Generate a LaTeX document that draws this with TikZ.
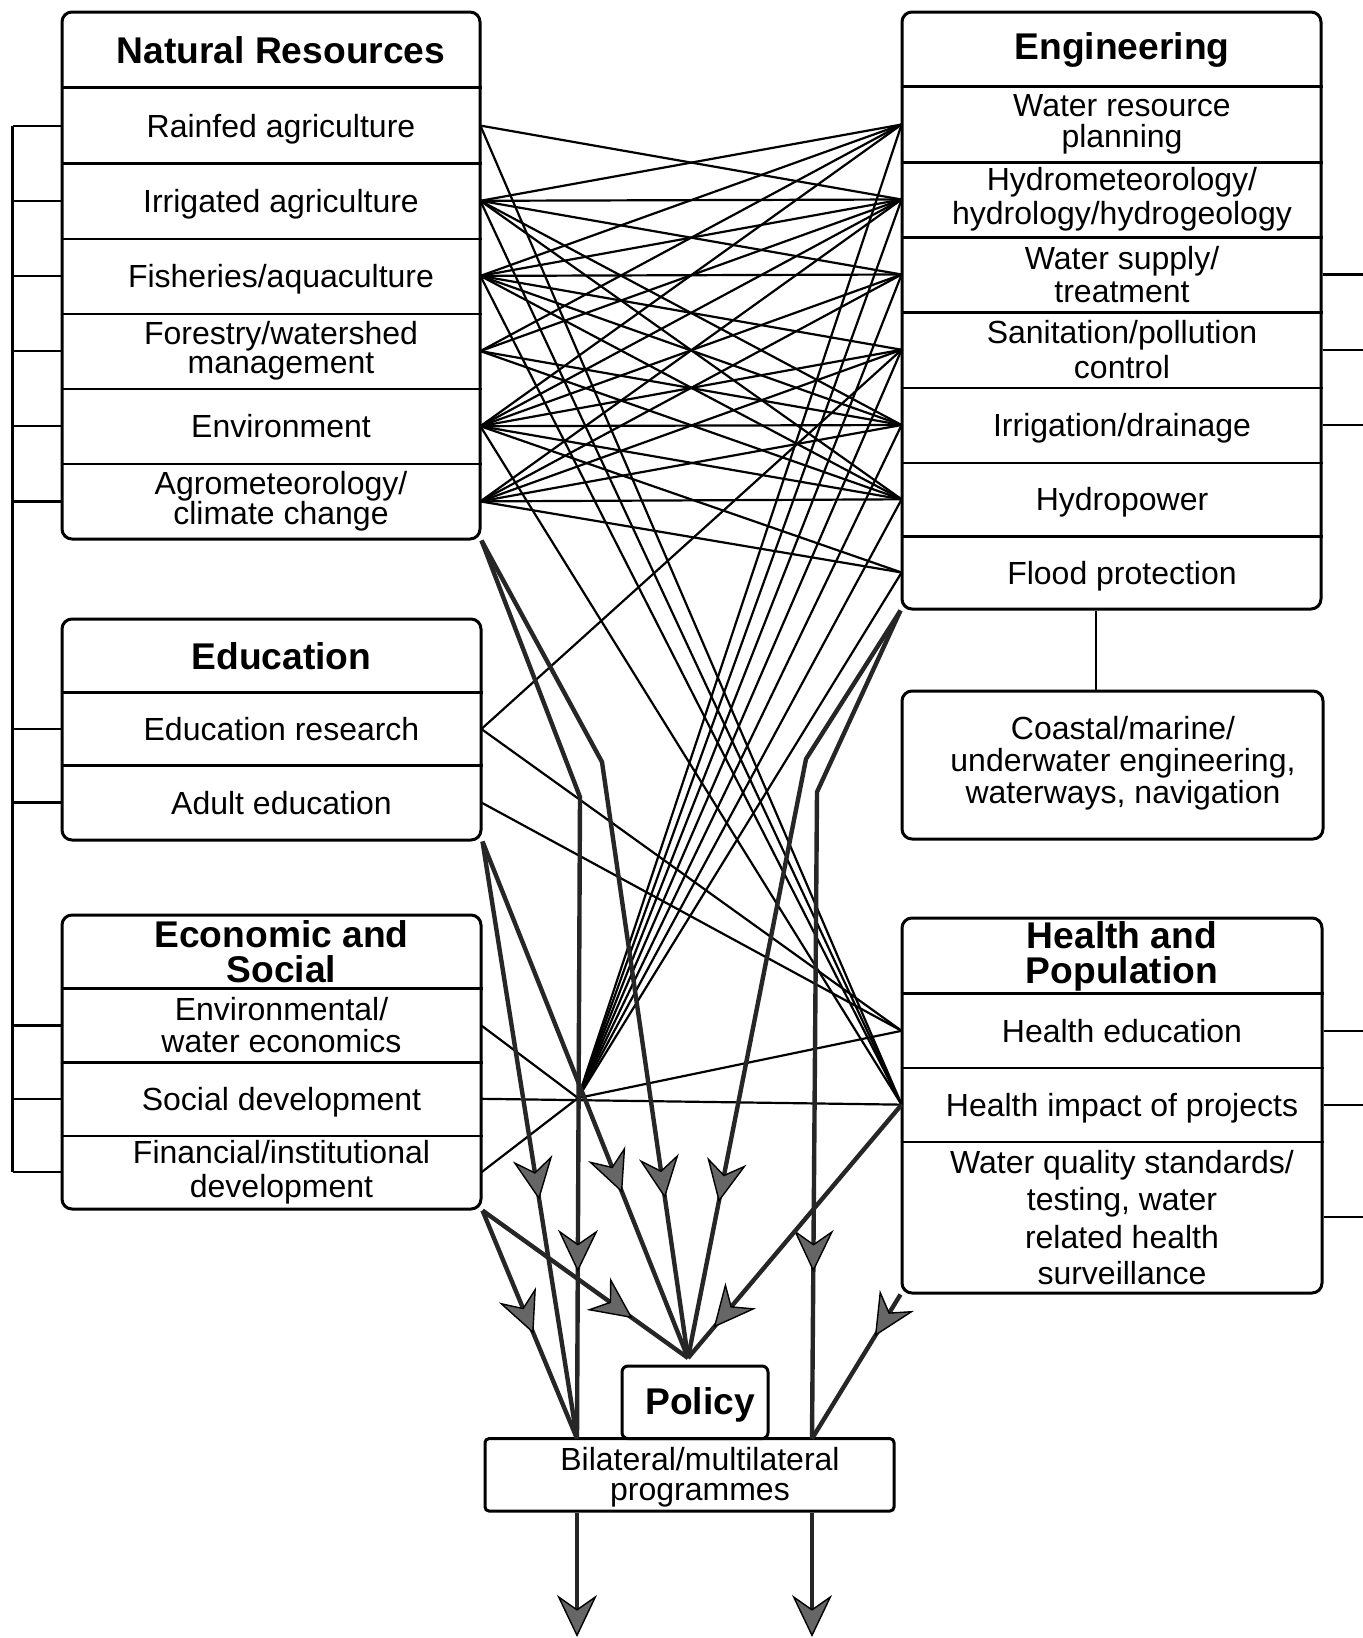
\documentclass[tikz,border=0pt]{standalone}
\usepackage{fontspec}
\setmainfont{Liberation Sans}
\usetikzlibrary{arrows.meta,decorations.markings}
\newcommand{\rowfont}{\fontsize{16pt}{16pt}\selectfont}
\newcommand{\ttlfont}{\bfseries\fontsize{18.6pt}{17.6pt}\selectfont}
\tikzset{
  frame/.style={draw, line width=1.5pt, rounded corners=5pt, inner sep=0pt},
  cell/.style={inner sep=0pt, align=center, font=\rowfont},
  one/.style={text depth=0pt},
  ttl/.style={inner sep=0pt, align=center, font=\ttlfont},
  divider/.style={line width=1.2pt},
  link/.style={line width=1.1pt},
  brk/.style={line width=1.1pt},
  thk/.style={line width=2.2pt, draw=black!85},
  myhead/.tip={Stealth[length=21pt,width=20pt,inset=7pt,line width=0.7pt,color=black,fill=black!60]},
  hd/.style={postaction={decorate,decoration={markings,mark=at position #1 with {\arrow{myhead}}}}},
}
\begin{document}
\begin{tikzpicture}[x=0.5pt,y=-0.5pt]
\path[use as bounding box, fill=white] (0,0) rectangle (1363,1638);

% ---------- Natural Resources ----------
\node[frame, minimum width=209pt, minimum height=263.5pt] (nr) at (271,275.5) {};
\node[ttl, minimum width=199pt, minimum height=38pt] (nrt) at (281,50) {Natural Resources};
\node[cell, one, minimum width=199pt, minimum height=37.6pt] (r1) at (281,125.6) {Rainfed agriculture};
\node[cell, one, minimum width=199pt, minimum height=37.6pt] (r2) at (281,200.8) {Irrigated agriculture};
\node[cell, one, minimum width=199pt, minimum height=37.6pt] (r3) at (281,275.9) {Fisheries/aquaculture};
\node[cell, minimum width=199pt, minimum height=37.6pt] (r4) at (281,351.1) {Forestry/watershed\\[-1.4pt]management};
\node[cell, one, minimum width=199pt, minimum height=37.6pt] (r5) at (281,426.2) {Environment};
\node[cell, minimum width=199pt, minimum height=37.6pt] (r6) at (281,501.4) {Agrometeorology/\\[-1pt]climate change};
\foreach \n in {r1,r2,r3,r4,r5}
  \draw[divider] (nr.west |- \n.south) -- (nr.east |- \n.south);
\draw[divider] (nr.west |- r1.north) -- (nr.east |- r1.north);

% ---------- Engineering ----------
\node[frame, minimum width=209.5pt, minimum height=298.5pt] (eng) at (1111.5,310.5) {};
\node[ttl, minimum width=220pt, minimum height=37.5pt] (engt) at (1122,49.5) {Engineering};
\node[cell, minimum width=220pt, minimum height=37.5pt] (e1) at (1122,124.5) {Water resource\\[-0.4pt]planning};
\node[cell, minimum width=220pt, minimum height=37.5pt] (e2) at (1122,199.5) {Hydrometeorology/\\[0.8pt]hydrology/hydrogeology};
\node[cell, minimum width=220pt, minimum height=37.5pt] (e3) at (1122,274.5) {Water supply/\\[0.8pt]treatment};
\node[cell, minimum width=220pt, minimum height=37.75pt] (e4) at (1122,349.75) {Sanitation/pollution\\[1.8pt]control};
\node[cell, one, minimum width=220pt, minimum height=37.5pt] (e5) at (1122,425) {Irrigation/drainage};
\node[cell, one, minimum width=220pt, minimum height=36.7pt] (e6) at (1122,499.3) {Hydropower};
\node[cell, one, minimum width=220pt, minimum height=36.5pt] (e7) at (1122,572.5) {Flood protection};
\foreach \n in {e1,e2,e3,e4,e5,e6}
  \draw[divider] (eng.west |- \n.south) -- (eng.east |- \n.south);
\draw[divider] (eng.west |- e1.north) -- (eng.east |- e1.north);

% ---------- Education ----------
\node[frame, minimum width=209.5pt, minimum height=110.5pt] (edu) at (271.5,729.5) {};
\node[ttl, minimum width=199.5pt, minimum height=37pt] (edut) at (281.5,656) {Education};
\node[cell, one, minimum width=199.5pt, minimum height=36pt] (d1) at (281.5,729) {Education research};
\node[cell, one, minimum width=199.5pt, minimum height=37.5pt] (d2) at (281.5,802.5) {Adult education};
\draw[divider] (edu.west |- d1.north) -- (edu.east |- d1.north);
\draw[divider] (edu.west |- d1.south) -- (edu.east |- d1.south);

% ---------- Economic and Social ----------
\node[frame, minimum width=209.5pt, minimum height=147pt] (eco) at (271.5,1062) {};
\node[ttl, minimum width=199.5pt, minimum height=37pt] (ecot) at (281.5,952) {Economic and\\Social};
\node[cell, minimum width=199.5pt, minimum height=36.5pt] (s1) at (281.5,1025.5) {Environmental/\\water economics};
\node[cell, one, minimum width=199.5pt, minimum height=36.8pt] (s2) at (281.5,1098.8) {Social development};
\node[cell, minimum width=199.5pt, minimum height=36.7pt] (s3) at (281.5,1172.3) {Financial/institutional\\[1pt]development};
\draw[divider] (eco.west |- s1.north) -- (eco.east |- s1.north);
\draw[divider] (eco.west |- s1.south) -- (eco.east |- s1.south);
\draw[divider] (eco.west |- s2.south) -- (eco.east |- s2.south);

% ---------- Coastal ----------
\node[frame, minimum width=210.5pt, minimum height=74pt] (coast) at (1112.5,765) {};
\node[cell] (coastt) at (1123,763) {Coastal/marine/\\underwater engineering,\\waterways, navigation};

% ---------- Health and Population ----------
\node[frame, minimum width=210pt, minimum height=187.5pt] (hp) at (1112,1105.5) {};
\node[ttl, minimum width=220pt, minimum height=38pt] (hpt) at (1122,956) {Health and\\Population};
\node[cell, one, minimum width=220pt, minimum height=36.8pt] (h1) at (1122,1030.8) {Health education};
\node[cell, one, minimum width=220pt, minimum height=37.05pt] (h2) at (1122,1104.65) {Health impact of projects};
\node[cell, minimum width=220pt, minimum height=75.65pt] (h3) at (1122,1217.35) {Water quality standards/\\[2.4pt]testing, water\\[3.4pt]related health\\[1.8pt]surveillance};
\draw[divider] (hp.west |- h1.north) -- (hp.east |- h1.north);
\draw[divider] (hp.west |- h1.south) -- (hp.east |- h1.south);
\draw[divider] (hp.west |- h2.south) -- (hp.east |- h2.south);

% ---------- Policy / programmes ----------
\node[frame, rounded corners=3pt, minimum width=73pt, minimum height=36.3pt] (pol) at (695,1402.3) {};
\node[ttl] (polt) at (700,1405) {Policy};
\node[frame, rounded corners=2pt, minimum width=204.5pt, minimum height=36.2pt] (bil) at (689.5,1474.8) {};
\node[cell] (bilt) at (700,1477) {Bilateral/multilateral\\[-1.2pt]programmes};

% ---------- brackets ----------
\coordinate (lb) at (12.5,0);
\coordinate (rb) at (1363,0);
\foreach \n in {r1,r2,r3,r4,r5,r6,d1,d2,s1,s2,s3}
  \draw[brk] (lb |- \n) -- (nr.west |- \n);
\draw[brk] (lb |- r1) -- (lb |- s3);
\foreach \n in {e3,e4,e5}
  \draw[brk] (eng.east |- \n) -- (rb |- \n);
\foreach \n in {h1,h2,h3}
  \draw[brk] (hp.east |- \n) -- (rb |- \n);
\draw[brk] ([xshift=-8.25pt]coast.north) -- ([xshift=-8.25pt]coast.north |- eng.south);

% ---------- thin links ----------
\coordinate (hub) at (578,1098);
\foreach \a/\b in {r1/e2,
  r2/e1,r2/e2,r2/e3,r2/e5,r2/e6,
  r3/e1,r3/e2,r3/e3,r3/e4,r3/e5,r3/e6,
  r4/e1,r4/e2,r4/e5,r4/e6,
  r5/e1,r5/e2,r5/e3,r5/e4,r5/e5,r5/e6,r5/e7,
  r6/e2,r6/e3,r6/e4,r6/e5,r6/e6,r6/e7}
  \draw[link] (\a.east) -- (\b.west);
\foreach \a in {r1,r2,r3,r5}
  \draw[link] (\a.east) -- (h2.west);
\draw[link] (d1.east) -- (e4.west);
\draw[link] (d1.east) -- (h1.west);
\draw[link] (d2.east) -- (h1.west);
\draw[link] (s1.east) -- (hub);
\draw[link] (s3.east) -- (hub);
\draw[link] (s2.east) -- (h2.west);
\draw[link] (hub) -- (h1.west);
\foreach \b in {e1,e2,e3,e4,e5,e6,e7}
  \draw[link] (hub) -- (\b.west);

% ---------- thick arrows ----------
\coordinate (pin) at (688,1358);
\coordinate (bl) at (577,1438.6);
\coordinate (br) at (812,1438.6);
\coordinate (k1) at (580,797);
\coordinate (k2) at (602,762);
\coordinate (k3) at (806,759);
\coordinate (k4) at (817,792);
\coordinate (bot1) at (577,1637);
\coordinate (bot2) at (812,1637);
\draw[thk, hd=0.60] (edu.south east) -- (bl);
\draw[thk, hd=0.818] (nr.south east) -- (k1) -- (bl);
\draw[thk, hd=0.68] (edu.south east) -- (pin);
\draw[thk, hd=0.811] (nr.south east) -- (k2) -- (pin);
\draw[thk, hd=0.798] (eng.south west) -- (k3) -- (pin);
\draw[thk, hd=0.803] (eng.south west) -- (k4) -- (br);
\draw[thk, hd=0.29] (hp.south west) -- (br);
\draw[thk, hd=0.88] (h2.west) -- (pin);
\draw[thk, hd=0.73] (eco.south east) -- (pin);
\draw[thk, hd=0.54] (eco.south east) -- (bl);
\draw[thk, -{myhead}] (bil.south -| bl) -- (bot1);
\draw[thk, -{myhead}] (bil.south -| br) -- (bot2);
\end{tikzpicture}
\end{document}
